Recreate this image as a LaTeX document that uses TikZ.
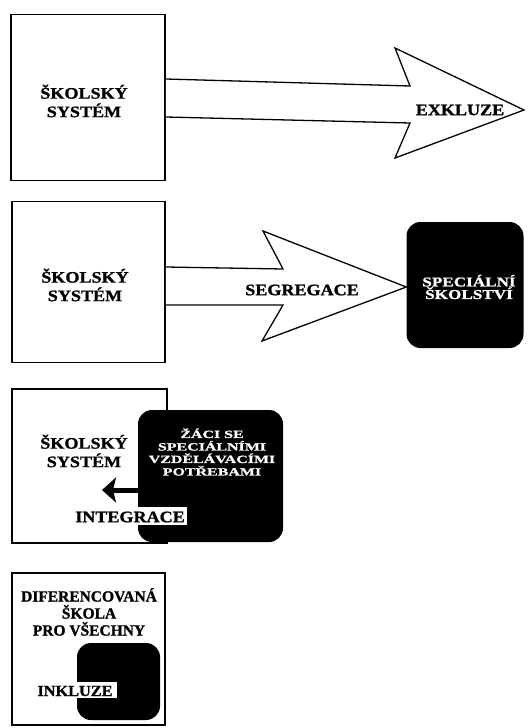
\documentclass[tikz,border=0pt]{standalone}
\usepackage{fontspec}
\setmainfont{Liberation Serif}
\newfontfamily\wideA[FakeStretch=1.13,BoldFeatures={FakeBold=1.2}]{Liberation Serif}
\newfontfamily\wideB[FakeStretch=1.27,BoldFeatures={FakeBold=1.2}]{Liberation Serif}
\newfontfamily\wideC[FakeStretch=1.45,BoldFeatures={FakeBold=0.9}]{Liberation Serif}
\newfontfamily\wideD[FakeStretch=1.05,BoldFeatures={FakeBold=1.2}]{Liberation Serif}
\newfontfamily\plainD[BoldFeatures={FakeBold=1.2}]{Liberation Serif}
\usetikzlibrary{arrows.meta}
\begin{document}
\begin{tikzpicture}[x=1pt,y=-1pt,
  sysbox/.style={draw, line width=1.8pt, fill=white, inner sep=0pt},
  blkbox/.style={fill=black, rounded corners=14pt, inner sep=0pt},
  bigarrow/.style={draw, line width=1.3pt, fill=white, line join=miter},
  lbl/.style={font=\wideA\bfseries\fontsize{16}{18.5}\selectfont, align=center, inner sep=0pt},
  wlblB/.style={font=\wideB\bfseries\fontsize{13.5}{12.5}\selectfont, align=center, inner sep=0pt, text=white},
  wlblC/.style={font=\wideC\bfseries\fontsize{11}{12.5}\selectfont, align=center, inner sep=0pt, text=white},
  lblD/.style={font=\plainD\bfseries\fontsize{15.5}{17}\selectfont, align=center, inner sep=0pt},
  tagbox/.style={fill=white, inner sep=0pt}]
\useasboundingbox (0,0) rectangle (529,728);
\fill[white] (0,0) rectangle (529,728);

% Panel 1: exclusion
\node[sysbox, minimum width=154pt, minimum height=166pt] (s1) at (88,97.5) {};
\node[lbl] (s1t) at (84,101) {ŠKOLSKÝ\\SYSTÉM};
\draw[bigarrow] (s1.east |- 0,79) -- (410,86) -- (395,48) -- (524,110) -- (395,158) -- (410,123) -- (s1.east |- 0,117);
\node[lbl] (ex) at (460,110) {EXKLUZE};

% Panel 2: segregation
\node[sysbox, minimum width=153pt, minimum height=161pt] (s2) at (88.5,282) {};
\node[lbl] (s2t) at (85,285) {ŠKOLSKÝ\\SYSTÉM};
\node[blkbox, minimum width=117pt, minimum height=126pt] (sp) at (465,285) {};
\draw[bigarrow] (s2.east |- 0,267) -- (283,269) -- (263,231) -- (sp.west |- 0,287) -- (262,341) -- (283,305) -- (s2.east |- 0,305);
\node[lbl] (seg) at (302,290) {SEGREGACE};
\node[wlblB] (spt) at (469,287) {SPECIÁLNÍ\\ŠKOLSTVÍ};

% Panel 3: integration
\node[sysbox, minimum width=155pt, minimum height=154pt] (s3) at (89.5,466) {};
\node[lbl] (s3t) at (84,451) {ŠKOLSKÝ\\SYSTÉM};
\node[blkbox, minimum width=145pt, minimum height=132pt] (zb) at (210.5,476) {};
\node[wlblC] (zt) at (212,452) {ŽÁCI SE\\SPECIÁLNÍMI\\VZDĚLÁVACÍMI\\POTŘEBAMI};
\coordinate (itip) at (102,490);
\draw[line width=5pt, -{Stealth[length=14pt,width=25pt,inset=3pt]}] (zb.west |- itip) -- (itip);
\node[tagbox, minimum width=114pt, minimum height=18pt] (int) at (130,516) {};
\node[lbl] (intt) at (130,517) {INTEGRACE};

% Panel 4: inclusion
\node[sysbox, minimum width=153pt, minimum height=152pt] (s4) at (88.5,649) {};
\node[lblD] (s4t) at (89,612) {DIFERENCOVANÁ\\ŠKOLA\\PRO VŠECHNY};
\node[blkbox, minimum width=83pt, minimum height=77pt] (ib) at (118.5,681.5) {};
\node[tagbox, minimum width=84pt, minimum height=16pt] (ink) at (75,690) {};
\node[font=\wideD\bfseries\fontsize{15.5}{17}\selectfont, inner sep=0pt] (inkt) at (75,691) {INKLUZE};
\end{tikzpicture}
\end{document}
